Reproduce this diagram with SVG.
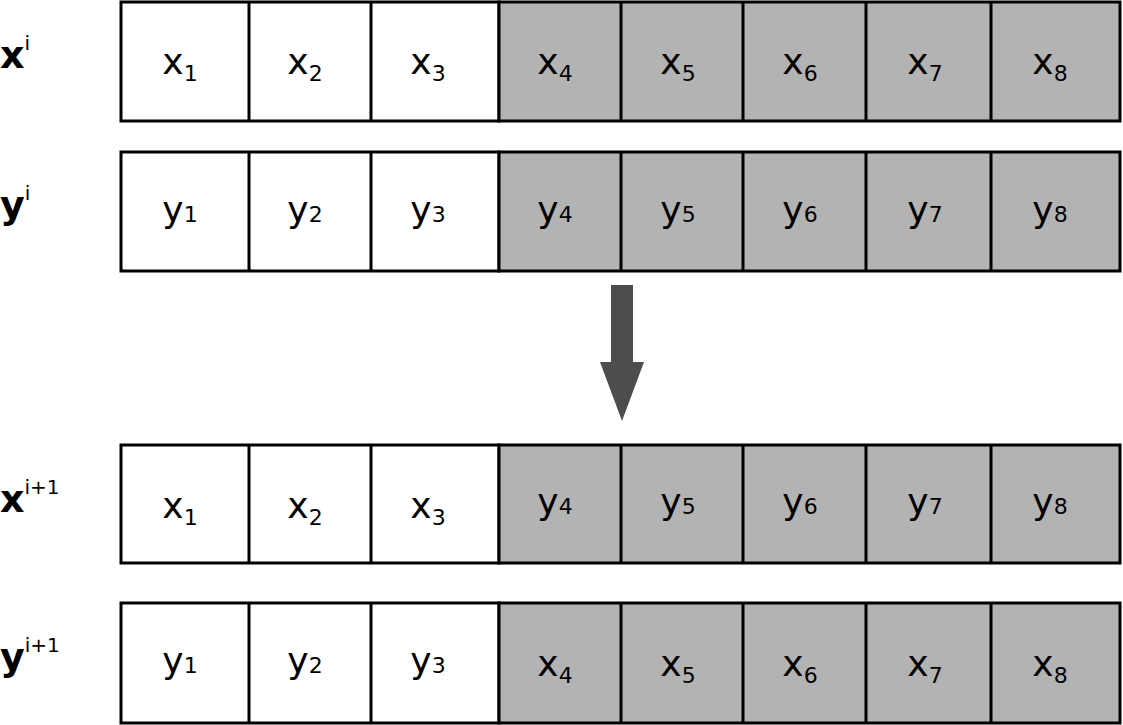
<svg xmlns="http://www.w3.org/2000/svg" width="1123" height="725" viewBox="0 0 1123 725">
<style>
.w{fill:#fff;stroke:#000;stroke-width:3}
.g{fill:#b3b3b3;stroke:#000;stroke-width:3}
.c{font-family:"DejaVu Sans",sans-serif;font-size:36px;font-weight:normal;text-anchor:middle;fill:#000}
.s{font-size:22px}
.lb{font-family:"DejaVu Sans",sans-serif;font-size:38px;font-weight:bold}
.sup{font-size:20px;font-weight:normal}
</style>
<rect width="1123" height="725" fill="#fff"/>
<g id="labels">
<text class="lb" x="0" y="68">x<tspan class="sup" dy="-18">i</tspan></text>
<text class="lb" x="0" y="218">y<tspan class="sup" dy="-18">i</tspan></text>
<text class="lb" x="0" y="512">x<tspan class="sup" dy="-18">i+1</tspan></text>
<text class="lb" x="0" y="670">y<tspan class="sup" dy="-18">i+1</tspan></text>
</g>
<g id="row1">
<rect class="w" x="121" y="2" width="378" height="119"/><rect class="g" x="499" y="2" width="621" height="119"/>
<path d="M249 2V121M371 2V121M621 2V121M743 2V121M866 2V121M991 2V121" stroke="#000" stroke-width="3"/>
<text class="c" y="74"><tspan x="180">x<tspan class="s" dy="7">1</tspan></tspan><tspan x="305" dy="-7">x<tspan class="s" dy="7">2</tspan></tspan><tspan x="428" dy="-7">x<tspan class="s" dy="7">3</tspan></tspan><tspan x="555" dy="-7">x<tspan class="s" dy="7">4</tspan></tspan><tspan x="678" dy="-7">x<tspan class="s" dy="7">5</tspan></tspan><tspan x="800" dy="-7">x<tspan class="s" dy="7">6</tspan></tspan><tspan x="925" dy="-7">x<tspan class="s" dy="7">7</tspan></tspan><tspan x="1050" dy="-7">x<tspan class="s" dy="7">8</tspan></tspan></text>
</g>
<g id="row2">
<rect class="w" x="121" y="152" width="378" height="119"/><rect class="g" x="499" y="152" width="621" height="119"/>
<path d="M249 152V271M371 152V271M621 152V271M743 152V271M866 152V271M991 152V271" stroke="#000" stroke-width="3"/>
<text class="c" y="222"><tspan x="180">y<tspan class="s">1</tspan></tspan><tspan x="305">y<tspan class="s">2</tspan></tspan><tspan x="428">y<tspan class="s">3</tspan></tspan><tspan x="555">y<tspan class="s">4</tspan></tspan><tspan x="678">y<tspan class="s">5</tspan></tspan><tspan x="800">y<tspan class="s">6</tspan></tspan><tspan x="925">y<tspan class="s">7</tspan></tspan><tspan x="1050">y<tspan class="s">8</tspan></tspan></text>
</g>
<g id="connectors">
<path d="M611 285H633V362H644L622 421L600 362H611Z" fill="#4d4d4d"/>
</g>
<g id="row3">
<rect class="w" x="121" y="445" width="378" height="118"/><rect class="g" x="499" y="445" width="621" height="118"/>
<path d="M249 445V563M371 445V563M621 445V563M743 445V563M866 445V563M991 445V563" stroke="#000" stroke-width="3"/>
<text class="c" y="518"><tspan x="180">x<tspan class="s" dy="7">1</tspan></tspan><tspan x="305" dy="-7">x<tspan class="s" dy="7">2</tspan></tspan><tspan x="428" dy="-7">x<tspan class="s" dy="7">3</tspan></tspan></text>
<text class="c" y="514"><tspan x="555">y<tspan class="s">4</tspan></tspan><tspan x="678">y<tspan class="s">5</tspan></tspan><tspan x="800">y<tspan class="s">6</tspan></tspan><tspan x="925">y<tspan class="s">7</tspan></tspan><tspan x="1050">y<tspan class="s">8</tspan></tspan></text>
</g>
<g id="row4">
<rect class="w" x="121" y="603" width="378" height="120"/><rect class="g" x="499" y="603" width="621" height="120"/>
<path d="M249 603V723M371 603V723M621 603V723M743 603V723M866 603V723M991 603V723" stroke="#000" stroke-width="3"/>
<text class="c" y="673"><tspan x="180">y<tspan class="s">1</tspan></tspan><tspan x="305">y<tspan class="s">2</tspan></tspan><tspan x="428">y<tspan class="s">3</tspan></tspan></text>
<text class="c" y="676"><tspan x="555">x<tspan class="s" dy="7">4</tspan></tspan><tspan x="678" dy="-7">x<tspan class="s" dy="7">5</tspan></tspan><tspan x="800" dy="-7">x<tspan class="s" dy="7">6</tspan></tspan><tspan x="925" dy="-7">x<tspan class="s" dy="7">7</tspan></tspan><tspan x="1050" dy="-7">x<tspan class="s" dy="7">8</tspan></tspan></text>
</g>
</svg>
